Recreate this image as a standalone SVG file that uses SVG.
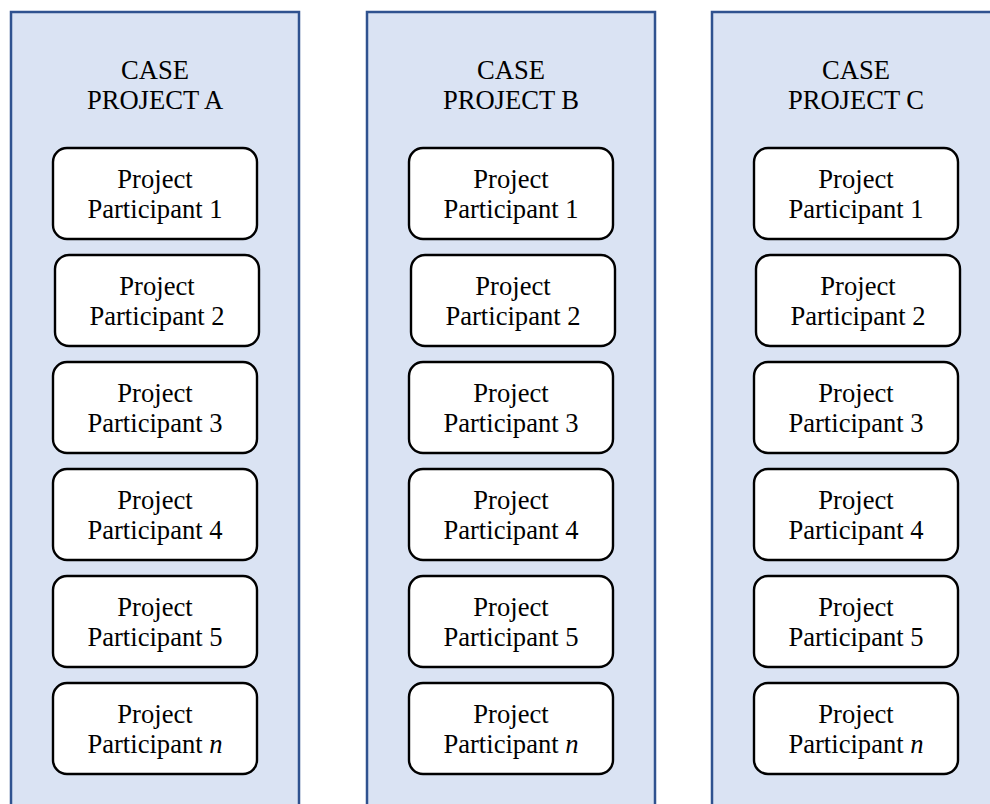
<svg xmlns="http://www.w3.org/2000/svg" width="990" height="804" viewBox="0 0 990 804">
<style>
.panel{fill:#DAE3F3;stroke:#2F528F;stroke-width:2.5}
.box{fill:#FFFFFF;stroke:#000000;stroke-width:2.4}
text{font-family:"Liberation Serif","Times New Roman",serif;font-size:26.6px;fill:#000000;text-anchor:middle}
</style>
<rect width="990" height="804" fill="#FFFFFF"/>
<g id="panelA">
<rect class="panel" x="11" y="12" width="288" height="810"/>
<text x="155" y="79">CASE</text>
<text x="155" y="109">PROJECT A</text>
</g>
<g id="panelB">
<rect class="panel" x="367" y="12" width="288" height="810"/>
<text x="511" y="79">CASE</text>
<text x="511" y="109">PROJECT B</text>
</g>
<g id="panelC">
<rect class="panel" x="712" y="12" width="300" height="810"/>
<text x="856" y="79">CASE</text>
<text x="856" y="109">PROJECT C</text>
</g>
<g id="A1"><rect class="box" x="53" y="148" width="204" height="91" rx="14"/><text x="155" y="188">Project</text><text x="155" y="218">Participant 1</text></g>
<g id="A2"><rect class="box" x="55" y="255" width="204" height="91" rx="14"/><text x="157" y="295">Project</text><text x="157" y="325">Participant 2</text></g>
<g id="A3"><rect class="box" x="53" y="362" width="204" height="91" rx="14"/><text x="155" y="402">Project</text><text x="155" y="432">Participant 3</text></g>
<g id="A4"><rect class="box" x="53" y="469" width="204" height="91" rx="14"/><text x="155" y="509">Project</text><text x="155" y="539">Participant 4</text></g>
<g id="A5"><rect class="box" x="53" y="576" width="204" height="91" rx="14"/><text x="155" y="616">Project</text><text x="155" y="646">Participant 5</text></g>
<g id="An"><rect class="box" x="53" y="683" width="204" height="91" rx="14"/><text x="155" y="723">Project</text><text x="155" y="753">Participant <tspan font-style="italic">n</tspan></text></g>
<g id="B1"><rect class="box" x="409" y="148" width="204" height="91" rx="14"/><text x="511" y="188">Project</text><text x="511" y="218">Participant 1</text></g>
<g id="B2"><rect class="box" x="411" y="255" width="204" height="91" rx="14"/><text x="513" y="295">Project</text><text x="513" y="325">Participant 2</text></g>
<g id="B3"><rect class="box" x="409" y="362" width="204" height="91" rx="14"/><text x="511" y="402">Project</text><text x="511" y="432">Participant 3</text></g>
<g id="B4"><rect class="box" x="409" y="469" width="204" height="91" rx="14"/><text x="511" y="509">Project</text><text x="511" y="539">Participant 4</text></g>
<g id="B5"><rect class="box" x="409" y="576" width="204" height="91" rx="14"/><text x="511" y="616">Project</text><text x="511" y="646">Participant 5</text></g>
<g id="Bn"><rect class="box" x="409" y="683" width="204" height="91" rx="14"/><text x="511" y="723">Project</text><text x="511" y="753">Participant <tspan font-style="italic">n</tspan></text></g>
<g id="C1"><rect class="box" x="754" y="148" width="204" height="91" rx="14"/><text x="856" y="188">Project</text><text x="856" y="218">Participant 1</text></g>
<g id="C2"><rect class="box" x="756" y="255" width="204" height="91" rx="14"/><text x="858" y="295">Project</text><text x="858" y="325">Participant 2</text></g>
<g id="C3"><rect class="box" x="754" y="362" width="204" height="91" rx="14"/><text x="856" y="402">Project</text><text x="856" y="432">Participant 3</text></g>
<g id="C4"><rect class="box" x="754" y="469" width="204" height="91" rx="14"/><text x="856" y="509">Project</text><text x="856" y="539">Participant 4</text></g>
<g id="C5"><rect class="box" x="754" y="576" width="204" height="91" rx="14"/><text x="856" y="616">Project</text><text x="856" y="646">Participant 5</text></g>
<g id="Cn"><rect class="box" x="754" y="683" width="204" height="91" rx="14"/><text x="856" y="723">Project</text><text x="856" y="753">Participant <tspan font-style="italic">n</tspan></text></g>
<g id="connectors"/>
</svg>
